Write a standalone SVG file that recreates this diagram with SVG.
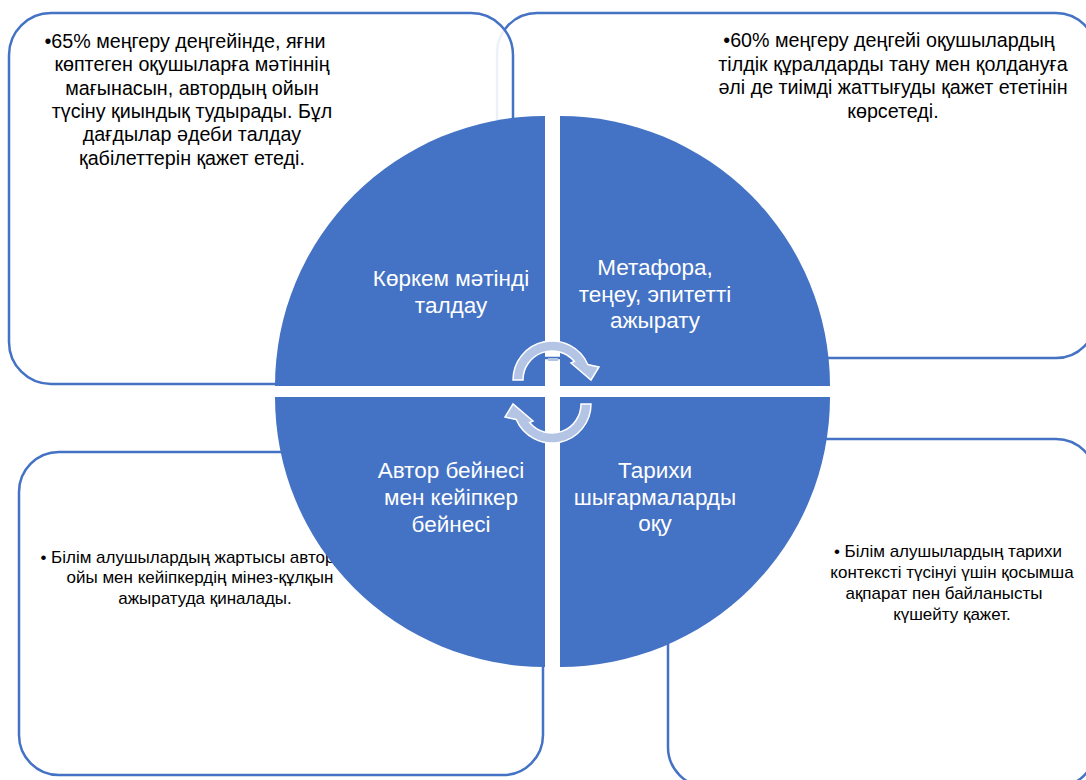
<svg xmlns="http://www.w3.org/2000/svg" width="1086" height="780" viewBox="0 0 1086 780">
<style>
.box{fill:#fff;stroke:#4472C4;stroke-width:2.5}
.q{fill:#4472C4}
.t{font-family:"Liberation Sans",Arial,sans-serif;font-size:19.7px;fill:#000;text-anchor:middle}
.s{font-family:"Liberation Sans",Arial,sans-serif;font-size:17px;fill:#000;text-anchor:middle}
.w{font-family:"Liberation Sans",Arial,sans-serif;font-size:22.5px;fill:#fff;text-anchor:middle}
.arr{fill:#B4C4E5;stroke:#fff;stroke-width:1.5}
</style>
<rect width="1086" height="780" fill="#fff"/>
<g id="box-tr">
<rect class="box" x="497" y="13" width="599" height="345" rx="40"/>
<text class="t" x="889" y="47">•60% меңгеру деңгейі оқушылардың</text>
<text class="t" x="893" y="70.5">тілдік құралдарды тану мен қолдануға</text>
<text class="t" x="893" y="94">әлі де тиімді жаттығуды қажет ететінін</text>
<text class="t" x="893" y="117.5">көрсетеді.</text>
</g>
<g id="box-tl">
<rect class="box" x="9" y="13" width="504" height="371" rx="42" style="fill-opacity:0.9"/>
<text class="t" x="185" y="48">•65% меңгеру деңгейінде, яғни</text>
<text class="t" x="192" y="71.3">көптеген оқушыларға мәтіннің</text>
<text class="t" x="192" y="94.6">мағынасын, автордың ойын</text>
<text class="t" x="192" y="117.9">түсіну қиындық тудырады. Бұл</text>
<text class="t" x="192" y="141.2">дағдылар әдеби талдау</text>
<text class="t" x="192" y="164.5">қабілеттерін қажет етеді.</text>
</g>
<g id="box-bl">
<rect class="box" x="19" y="452" width="524" height="323" rx="40"/>
<text class="s" x="203" y="562.5">• Білім алушылардың жартысы автордың</text>
<text class="s" x="200" y="583.2">ойы мен кейіпкердің мінез-құлқын</text>
<text class="s" x="205" y="604">ажыратуда қиналады.</text>
</g>
<g id="box-br">
<rect class="box" x="668" y="439" width="428" height="348" rx="40"/>
<text class="s" x="948" y="557">• Білім алушылардың тарихи</text>
<text class="s" x="952" y="578">контексті түсінуі үшін қосымша</text>
<text class="s" x="944" y="599">ақпарат пен байланысты</text>
<text class="s" x="952" y="620">күшейту қажет.</text>
</g>
<g id="q-tl">
<path class="q" d="M545,386 L275,386 A270,270 0 0 1 545,116 Z"/>
<text class="w" x="451" y="286">Көркем мәтінді</text>
<text class="w" x="451" y="313">талдау</text>
</g>
<g id="q-tr">
<path class="q" d="M560,386 L560,116 A270,270 0 0 1 830,386 Z"/>
<text class="w" x="655" y="275">Метафора,</text>
<text class="w" x="655" y="302">теңеу, эпитетті</text>
<text class="w" x="655" y="328">ажырату</text>
</g>
<g id="q-bl">
<path class="q" d="M545,397 L545,667 A270,270 0 0 1 275,397 Z"/>
<text class="w" x="451" y="478">Автор бейнесі</text>
<text class="w" x="451" y="505">мен кейіпкер</text>
<text class="w" x="451" y="532">бейнесі</text>
</g>
<g id="q-br">
<path class="q" d="M560,397 L830,397 A270,270 0 0 1 560,667 Z"/>
<text class="w" x="655" y="478">Тарихи</text>
<text class="w" x="655" y="505">шығармаларды</text>
<text class="w" x="655" y="531">оқу</text>
</g>
<g id="connectors">
<path id="arrow-top" class="arr" d="M513,380 A39,39 0 0 1 587.8,364.5 L599,367 L591,380 L571,363 L574.4,361.5 A29,29 0 0 0 523,380 Z"/>
<path class="arr" d="M513,380 A39,39 0 0 1 587.8,364.5 L599,367 L591,380 L571,363 L574.4,361.5 A29,29 0 0 0 523,380 Z" transform="rotate(180 552 392)"/>
<rect x="548" y="358" width="10" height="3" fill="#B4C4E5"/>
</g>
</svg>
